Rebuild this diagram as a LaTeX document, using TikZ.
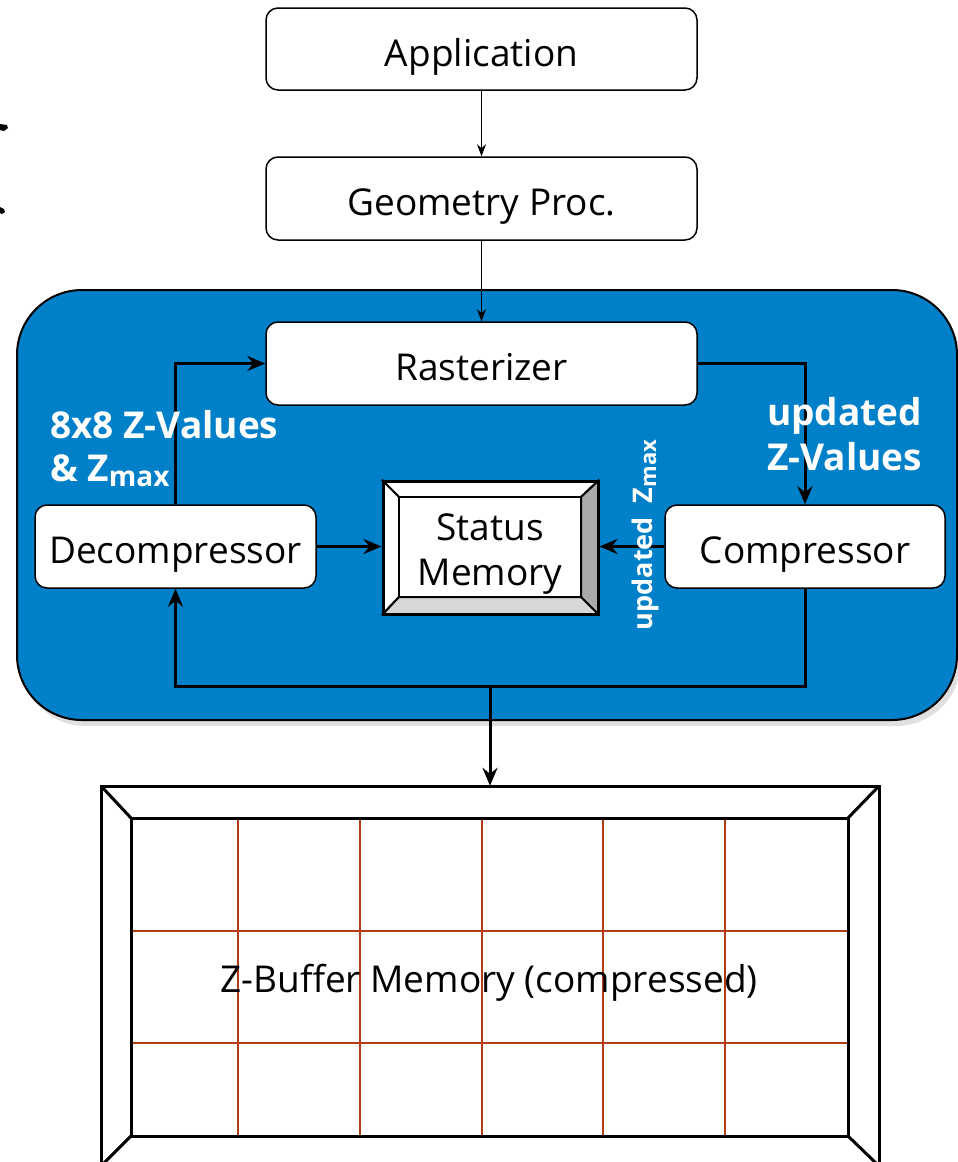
\documentclass[tikz,border=0pt]{standalone}
\usepackage{fontspec}
\setmainfont{Open Sans}
\usetikzlibrary{arrows.meta,shadows}
\definecolor{panelblue}{RGB}{0,128,200}
\definecolor{gridred}{RGB}{180,60,20}
\definecolor{bevdark}{RGB}{170,170,170}
\definecolor{bevlight}{RGB}{215,215,215}
\begin{document}
\begin{tikzpicture}[x=1pt,y=-1pt,
  wbox/.style={draw=black, line width=1.5pt, fill=white, rounded corners=12pt,
    inner sep=0pt, text height=34pt, text depth=0pt, font=\fontsize{37}{42}\selectfont},
  thinarrow/.style={line width=1.3pt, -{Stealth[length=12pt,width=9pt]}},
  thickarrow/.style={line width=3pt, -{Stealth[length=18pt,width=15pt,inset=6pt]}},
  lab/.style={text=white, font=\bfseries\fontsize{37}{43}\selectfont, inner sep=0pt},
  txt/.style={font=\fontsize{37}{42}\selectfont, inner sep=0pt}
]
\useasboundingbox (0,0) rectangle (958,1162);
% tiny marks at left edge
\fill (0,124) -- (7,125) -- (8,128) -- (4,131) -- (0,130) -- cycle;
\fill (0,207) -- (4,209) -- (5,212) -- (2,214) -- (0,213) -- cycle;

% top boxes
\node[wbox, minimum width=431pt, minimum height=82pt] (app) at (481.5,49) {Application};
\node[wbox, minimum width=431pt, minimum height=83pt] (geo) at (481.5,198.5) {Geometry Proc.};

% blue panel
\node[draw=black, line width=2pt, fill=panelblue, rounded corners=65pt,
  minimum width=940pt, minimum height=430pt, inner sep=0pt,
  drop shadow={shadow xshift=4pt, shadow yshift=-6pt, fill=black, opacity=0.12}] (panel) at (487,505) {};

\node[wbox, minimum width=431pt, minimum height=83pt] (rast) at (481.5,363.5) {Rasterizer};
\node[wbox, minimum width=281pt, minimum height=83pt] (decomp) at (175.5,546.5) {Decompressor};
\node[wbox, minimum width=280pt, minimum height=83pt] (comp) at (805,546.5) {Compressor};

% status memory (bevelled)
\begin{scope}[line width=2pt, line join=miter]
\filldraw[fill=white] (383,481) -- (598,481) -- (581,497) -- (399,497) -- cycle;
\filldraw[fill=white] (383,481) -- (399,497) -- (399,597) -- (383,614) -- cycle;
\filldraw[fill=bevdark] (598,481) -- (598,614) -- (581,597) -- (581,497) -- cycle;
\filldraw[fill=bevlight] (383,614) -- (598,614) -- (581,597) -- (399,597) -- cycle;
\end{scope}
\node[draw=black, line width=3pt, minimum width=215pt, minimum height=133pt, inner sep=0pt] (statusout) at (490.5,547.5) {};
\node[draw=black, line width=2pt, fill=white, minimum width=182pt, minimum height=100pt, inner sep=0pt] (status) at (490,547) {};
\node[txt, anchor=base] (st1) at (490,540) {Status};
\node[txt, anchor=base] (st2) at (490,585) {Memory};

% arrows
\draw[thinarrow] (app.south) -- (geo.north);
\draw[thinarrow] (geo.south) -- (rast.north);
\draw[thickarrow] (decomp.north) |- (rast.west);
\draw[thickarrow] (rast.east) -| (comp.north);
\draw[thickarrow] (decomp.east) -- (decomp.east -| statusout.west);
\draw[thickarrow] (comp.west) -- (comp.west -| statusout.east);
\coordinate (bus) at (490,686);
\draw[thickarrow, line join=miter] (comp.south) |- (bus) -- (bus -| decomp.south) -- (decomp.south);

% labels
\node[lab, anchor=base west] (lzv1) at (50,438) {8x8 Z-Values};
\node[lab, anchor=base west] (lzv2) at (50,481) {\& Z{\fontsize{28}{28}\selectfont\raisebox{-5pt}{max}}};
\node[lab, anchor=base west] (luzv1) at (767,425) {updated};
\node[lab, anchor=base west] (luzv2) at (767,470) {Z-Values};
\node[text=white, font=\bfseries\fontsize{27}{27}\selectfont, rotate=90, inner sep=0pt] (luz) at (645,535)
  {updated\ \ Z{\fontsize{22}{22}\selectfont\raisebox{-4pt}{max}}};

% Z-buffer memory
\node[minimum width=778pt, minimum height=380pt, inner sep=0pt] (zbuf) at (490,976) {};
\draw[thickarrow] (bus) -- (zbuf.north);
\begin{scope}
\clip (0,0) rectangle (958,1162);
\begin{scope}[line width=3pt, line join=miter]
\draw (101,786) rectangle (879,1166);
\draw (131,818) rectangle (848,1136);
\draw (101,786) -- (131,818);
\draw (879,786) -- (848,818);
\draw (101,1166) -- (131,1136);
\draw (879,1166) -- (848,1136);
\end{scope}
\begin{scope}[gridred, line width=1.6pt]
\foreach \gx in {238,360,482,603,725} \draw (\gx,819.5) -- (\gx,1134.5);
\foreach \gy in {931,1043} \draw (132.5,\gy) -- (846.5,\gy);
\end{scope}
\end{scope}
\node[txt, anchor=base] (zlabel) at (489,992) {Z-Buffer Memory (compressed)};
\end{tikzpicture}
\end{document}
